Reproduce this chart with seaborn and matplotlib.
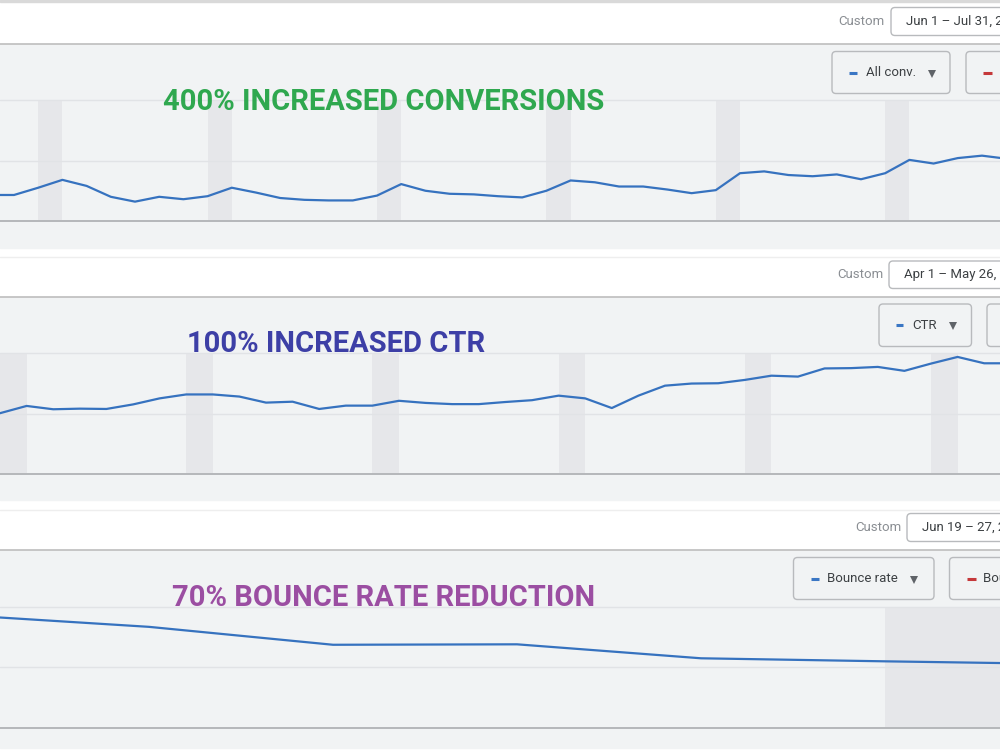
import matplotlib
matplotlib.use("Agg")
import matplotlib.pyplot as plt
from matplotlib.patches import Rectangle, FancyBboxPatch
import pandas as pd
import seaborn as sns

# ---- values ----
# panel 1: all conversions per day (visible part of Jun 1 - Jul 31)
conv_days = list(range(-1, 42))
conv_values = [4.3, 4.3, 5.5, 6.8, 5.8, 4.0, 3.2, 4.0, 3.6, 4.1, 5.5, 4.7, 3.8,
               3.5, 3.4, 3.4, 4.2, 6.1, 5.0, 4.5, 4.4, 4.1, 3.9, 5.0, 6.7, 6.4,
               5.7, 5.7, 5.2, 4.6, 5.1, 7.9, 8.2, 7.6, 7.4, 7.7, 6.9, 7.9, 10.1,
               9.5, 10.4, 10.8, 10.3]
conv_weekends = [1, 8, 15, 22, 29, 36]
conv_grid = [0, 10, 20]

# panel 2: CTR (%) per day (visible part of Apr 1 - May 26)
ctr_days = list(range(0, 39))
ctr_values = [2.01, 2.25, 2.14, 2.16, 2.15, 2.30, 2.50, 2.63, 2.63, 2.56, 2.36,
              2.39, 2.15, 2.26, 2.26, 2.42, 2.35, 2.31, 2.31, 2.38, 2.44, 2.59,
              2.50, 2.18, 2.59, 2.92, 2.99, 3.00, 3.11, 3.25, 3.22, 3.49, 3.50,
              3.54, 3.41, 3.65, 3.87, 3.66, 3.66]
ctr_weekends = [0, 7, 14, 21, 28, 35]
ctr_grid = [0, 2, 4]

# panel 3: bounce rate (%) per day (Jun 19 - 27)
bounce_days = [0, 1, 2, 3, 4, 5, 6]
bounce_values = [74.2, 66.6, 54.8, 55.1, 45.9, 43.9, 42.1]
bounce_weekends = [5]
bounce_grid = [0, 40, 80]

titles = ["400% INCREASED CONVERSIONS", "100% INCREASED CTR", "70% BOUNCE RATE REDUCTION"]
title_colors = ["#2fa84f", "#3d3fa6", "#9b4ea2"]
date_ranges = ["Jun 1 \u2013 Jul 31, 2019", "Apr 1 \u2013 May 26, 2019", "Jun 19 \u2013 27, 2019"]
metric_names = ["All conv.", "CTR", "Bounce rate"]

W, H = 1000, 750
BG = "#f1f3f4"
BAND = "#e6e7ea"
GRID = "#e1e3e6"
AXIS = "#b5b7ba"
LINE = "#3672bf"
BORDER = "#b9b9b9"

sns.set_style("white")
plt.rcParams["font.family"] = ["Roboto", "DejaVu Sans"]

fig = plt.figure(figsize=(10, 7.5), dpi=100)


def add_px_axes(x0, y0, x1, y1, z):
    ax = fig.add_axes([x0 / W, 1 - y1 / H, (x1 - x0) / W, (y1 - y0) / H], zorder=z)
    return ax


# background layer in pixel coordinates
bg = add_px_axes(0, 0, W, H, 0)
bg.set_xlim(0, W)
bg.set_ylim(H, 0)
bg.axis("off")
bg.add_patch(Rectangle((0, 0), W, H, color="white"))
bg.add_patch(Rectangle((0, 0), W, 2, color="#d9d9d9"))
for top, bottom in [(44, 248), (297, 500), (550, 748)]:
    bg.add_patch(Rectangle((0, top), W, bottom - top, color=BG))
    bg.plot([0, W], [top, top], color=BORDER, lw=1.1)
for y in [257, 510]:
    bg.plot([0, W], [y, y], color="#eeeeee", lw=1)

# chart layer
panels = [
    (conv_days, conv_values, conv_weekends, conv_grid, (100, 221), (-14 / 24.2, 986 / 24.2)),
    (ctr_days, ctr_values, ctr_weekends, ctr_grid, (353, 474), (0, 1000 / 26.6)),
    (bounce_days, bounce_values, bounce_weekends, bounce_grid, (606.5, 728), (35 / 184, 1035 / 184)),
]
for days, values, weekends, grid, (ytop, ybot), xlim in panels:
    ax = add_px_axes(0, ytop, W, ybot, 1)
    ax.patch.set_alpha(0)
    for d in weekends:
        ax.axvspan(d, d + 1, color=BAND, lw=0, zorder=0)
    for g in grid[1:]:
        ax.axhline(g, color=GRID, lw=1, zorder=1, clip_on=False)
    ax.axhline(grid[0], color=AXIS, lw=1.4, zorder=1, clip_on=False)
    df = pd.DataFrame({"day": days, "value": values})
    sns.lineplot(data=df, x="day", y="value", ax=ax, color=LINE, lw=1.6, zorder=3)
    ax.set_xlim(*xlim)
    ax.set_ylim(grid[0], grid[-1])
    ax.set_xticks([])
    ax.set_yticks([])
    ax.set_xlabel("")
    ax.set_ylabel("")
    sns.despine(ax=ax, left=True, bottom=True)

# overlay layer: header controls, legend buttons, headline text
ov = add_px_axes(0, 0, W, H, 2)
ov.set_xlim(0, W)
ov.set_ylim(H, 0)
ov.axis("off")
ov.patch.set_alpha(0)


def button(x0, y0, x1, y1, face):
    ov.add_patch(FancyBboxPatch((x0, y0), x1 - x0, y1 - y0,
                                boxstyle="round,pad=0,rounding_size=4",
                                fc=face, ec="#b8babd", lw=1, clip_on=False))


headers = [
    # custom_x, custom_y, box_x, box_top, box_bot, date_x
    (838, 21.5, 891, 7.5, 35.5, 906),
    (837, 274.5, 889, 261, 288.5, 904),
    (855, 527.5, 907, 513.5, 541.5, 922.5),
]
for (cx, cy, bx, bt, bb, dx), dates in zip(headers, date_ranges):
    ov.text(cx, cy, "Custom", color="#8a8e93", fontsize=9.5, va="center", ha="left")
    button(bx, bt, 1030, bb, "white")
    # the date range runs past the right edge, as in the cropped screenshot
    ov.text(dx, cy, dates, color="#3c4043", fontsize=9.5, va="center", ha="left")

legends = [
    # box x0, x1, top, bottom, dash x0, x1, label x, triangle x, second box x, second dash x
    (832, 950, 51.5, 93.5, 849, 857, 866, 932, 966, 983),
    (879, 971.5, 304, 346.5, 896, 903, 912, 953, 987, None),
    (793.5, 934, 557.5, 599.5, 810.5, 819, 827, 914, 949.5, 967),
]
for (x0, x1, t, b, d0, d1, lx, tx, sx, sd), name in zip(legends, metric_names):
    cy = (t + b) / 2
    button(x0, t, x1, b, BG)
    ov.plot([d0, d1], [cy, cy], color="#3a76c4", lw=2.2, solid_capstyle="butt")
    ov.text(lx, cy, name, color="#3c4043", fontsize=9.5, va="center", ha="left")
    ov.plot([tx], [cy + 1], marker="v", color="#5f6368", ms=5.5, mew=0)
    button(sx, t, 1030, b, BG)
    if sd is not None:
        ov.plot([sd, sd + 8.5], [cy, cy], color="#c5383a", lw=2.2, solid_capstyle="butt")
    if name == "Bounce rate":
        ov.text(sd + 16, cy, name, color="#3c4043", fontsize=9.5, va="center", ha="left")

title_pos = [(163, 102), (187, 344), (172, 597.5)]
for (tx, ty), text, col in zip(title_pos, titles, title_colors):
    ov.text(tx, ty, text, color=col, fontsize=21, fontweight="bold",
            family=["Roboto", "DejaVu Sans"], va="center", ha="left")

fig.savefig("out.png", dpi=100)
